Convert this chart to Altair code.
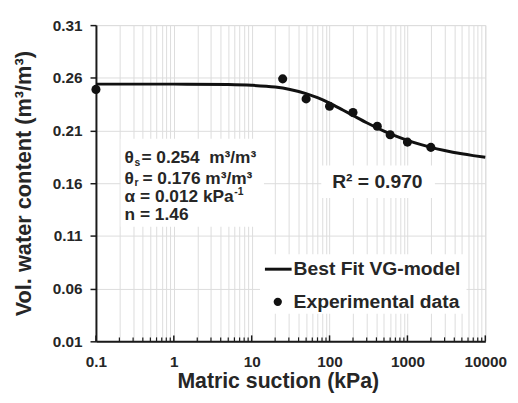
import altair as alt
import pandas as pd

# ---- data ----
suction_exp = [0.1, 25, 50, 100, 200, 410, 600, 1000, 2000]
theta_exp = [0.249, 0.259, 0.240, 0.233, 0.227, 0.214, 0.206, 0.199, 0.194]

suction_fit = [0.1, 1, 5, 10, 20, 30, 50, 70, 100, 150, 200, 300, 500, 700,
               1000, 1500, 2000, 3000, 5000, 7000, 10000]
theta_fit = [0.2540, 0.2540, 0.2536, 0.2529, 0.2512, 0.2492, 0.2450, 0.2411,
             0.2360, 0.2292, 0.2243, 0.2174, 0.2095, 0.2049, 0.2007, 0.1966,
             0.1940, 0.1910, 0.1879, 0.1862, 0.1846]

x_major = [0.1, 1, 10, 100, 1000, 10000]
x_all = [0.1, 0.2, 0.3, 0.4, 0.5, 0.6, 0.7, 0.8, 0.9,
         1, 2, 3, 4, 5, 6, 7, 8, 9,
         10, 20, 30, 40, 50, 60, 70, 80, 90,
         100, 200, 300, 400, 500, 600, 700, 800, 900,
         1000, 2000, 3000, 4000, 5000, 6000, 7000, 8000, 9000, 10000]
y_ticks = [0.01, 0.06, 0.11, 0.16, 0.21, 0.26, 0.31]

FONT = "Liberation Sans"
TXT = "#262626"
W, H = 394, 320
NB = "\u00a0"

exp_df = pd.DataFrame({"h": suction_exp, "theta": theta_exp})
fit_df = pd.DataFrame({"h": suction_fit, "theta": theta_fit})
minor_df = pd.DataFrame({"h": [v for v in x_all if v not in x_major]})
major_df = pd.DataFrame({"h": x_major})

xscale = alt.Scale(type="log", domain=[0.1, 10000], nice=False)
yscale = alt.Scale(domain=[0.01, 0.31], nice=False, zero=False)

label_expr = "indexof([0.1,1,10,100,1000,10000], datum.value) >= 0 ? format(datum.value, '~g') : ''"

x_axis = alt.Axis(values=x_all, labelExpr=label_expr, grid=True, gridColor="#dcdcdc",
                  gridWidth=1, ticks=False, labelOverlap=False, labelFlush=False,
                  labelFont=FONT, labelFontSize=15.5, labelFontWeight="bold", labelColor=TXT,
                  labelPadding=13, domainColor="#1a1a1a", domainWidth=2,
                  title="Matric suction (kPa)", titleFont=FONT, titleFontSize=21.5,
                  titleFontWeight="bold", titleColor=TXT, titleX=184, titleY=41,
                  titleBaseline="middle", titleAlign="center")
y_axis = alt.Axis(values=y_ticks, format=".2f", grid=True, gridColor="#dcdcdc", gridWidth=1,
                  tickSize=6, tickColor="#1a1a1a", tickWidth=1.5,
                  labelFont=FONT, labelFontSize=15.5, labelFontWeight="bold", labelColor=TXT,
                  labelPadding=8, domainColor="#1a1a1a", domainWidth=2,
                  title="Vol. water content (m³/m³)", titleFont=FONT, titleFontSize=22,
                  titleFontWeight="bold", titleColor=TXT, titleX=-73, titleY=160,
                  titleAngle=270, titleBaseline="middle", titleAlign="center")

base_x = alt.X("h:Q", scale=xscale, axis=x_axis)
base_y = alt.Y("theta:Q", scale=yscale, axis=y_axis)

one = alt.Data(values=[{"a": 1}])


def box(x1, x2, y1, y2):
    return alt.Chart(one).mark_rect(color="white").encode(
        x=alt.value(x1), x2=alt.value(x2), y=alt.value(y1), y2=alt.value(y2))


def label(text, x, y, size=17.5, align="left", baseline="middle"):
    return alt.Chart(one).mark_text(text=text, font=FONT, fontSize=size, fontWeight="bold",
                                    color=TXT, align=align, baseline=baseline).encode(
        x=alt.value(x), y=alt.value(y))


fit_line = alt.Chart(fit_df).mark_line(color="#111111", strokeWidth=3,
                                       interpolate="monotone").encode(x=base_x, y=base_y)
points = alt.Chart(exp_df).mark_point(filled=True, color="#111111", size=85,
                                      opacity=1).encode(x=base_x, y=base_y)

minor_ticks = alt.Chart(minor_df).mark_rule(color="#1a1a1a", strokeWidth=1.2).encode(
    x=alt.X("h:Q", scale=xscale), y=alt.value(H - 4), y2=alt.value(H))
major_ticks = alt.Chart(major_df).mark_rule(color="#1a1a1a", strokeWidth=1.5).encode(
    x=alt.X("h:Q", scale=xscale), y=alt.value(H - 6), y2=alt.value(H))

layers = [
    fit_line,
    box(25, 170, 115, 204),
    box(228, 343, 142, 175),
    box(166, 375, 232, 292),
    minor_ticks, major_ticks,
    points,
    # parameter annotation
    label("θ", 29, 135), label("s", 39, 140, size=10.5),
    label("= 0.254" + NB + NB + "m³/m³", 46, 135),
    label("θ", 29, 156), label("r", 39, 160, size=10.5),
    label("= 0.176 m³/m³", 47, 156),
    label("α = 0.012 kPa", 29, 174), label("-1", 140, 169, size=10.5),
    label("n = 1.46", 29, 192),
    # R squared
    label("R² = 0.970", 239, 159, size=19.5),
    # legend
    alt.Chart(one).mark_rule(color="#111111", strokeWidth=3).encode(
        x=alt.value(171), x2=alt.value(198), y=alt.value(247)),
    label("Best Fit VG-model", 200, 247, size=19.5),
    alt.Chart(one).mark_point(filled=True, color="#111111", size=70, opacity=1).encode(
        x=alt.value(184), y=alt.value(280)),
    label("Experimental data", 200, 280, size=19.5),
]

chart = alt.layer(*layers).properties(
    width=W, height=H,
    autosize=alt.AutoSizeParams(type="none"),
    padding={"left": 89, "top": 15, "right": 25, "bottom": 52},
).configure_view(stroke="#1a1a1a", strokeWidth=2).configure(background="white")

chart.save("out.html", embed_options={"renderer": "svg", "actions": False})
